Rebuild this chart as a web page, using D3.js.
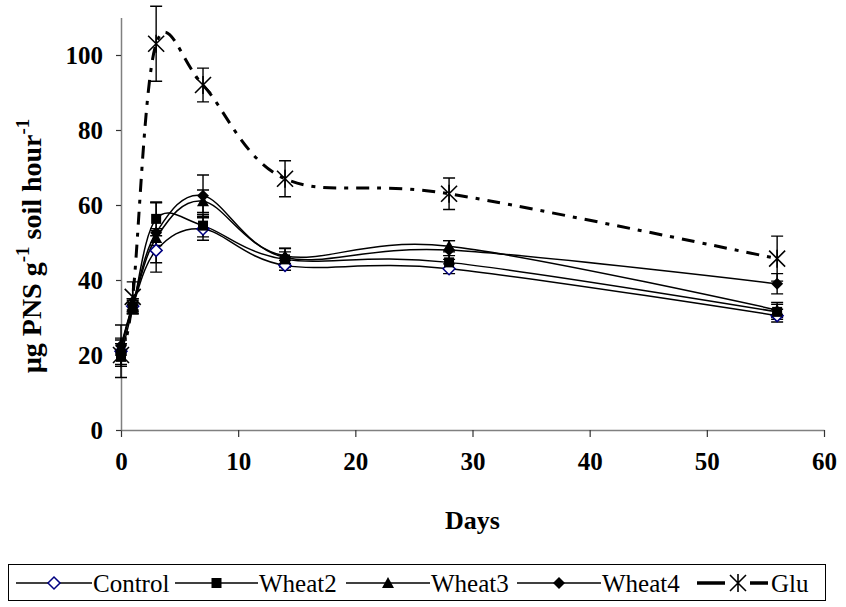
<!DOCTYPE html>
<html><head><meta charset="utf-8">
<script src="https://cdn.jsdelivr.net/npm/d3@7"></script>
<style>body{margin:0;background:#fff}svg{display:block}</style>
</head><body>
<script>
const days = [0, 1, 3, 7, 14, 28, 56];
const controlVals = [21, 33, 47.9, 53.6, 43.9, 43, 30.5];
const controlErr  = [7, 2, 5.8, 3, 1.3, 1.3, 1.7];
const wheat2Vals = [19.5, 32.5, 56.3, 54.5, 45.5, 44.7, 31.5];
const wheat2Err  = [2, 1.5, 4.5, 3, 2, 1.8, 2];
const wheat3Vals = [22, 33, 51.2, 61, 46.4, 49, 32];
const wheat3Err  = [2, 1.5, 2, 3, 2, 1.5, 2];
const wheat4Vals = [22.5, 33.5, 52.6, 62.5, 46, 48, 39];
const wheat4Err  = [2, 1.5, 8, 5.5, 2.5, 2.5, 2.7];
const gluVals = [20, 35.5, 103, 92, 67, 63, 45.7];
const gluErr  = [3, 4, 10, 4.5, 4.8, 4.2, 6];
const xTicks = [0, 10, 20, 30, 40, 50, 60];
const yTicks = [0, 20, 40, 60, 80, 100];
const seriesNames = ["Control", "Wheat2", "Wheat3", "Wheat4", "Glu"];

const FONT = '"Liberation Serif", "Times New Roman", serif';
const W = 846, H = 607;
const svg = d3.select("body").append("svg").attr("width", W).attr("height", H);
const x = d3.scaleLinear().domain([0, 60]).range([121, 824]);
const y = d3.scaleLinear().domain([0, 110]).range([430, 17.5]);

// axes
const xAxis = svg.append("g").attr("transform", `translate(0,${y(0)})`)
  .call(d3.axisBottom(x).tickValues(xTicks).tickSize(7).tickSizeOuter(0).tickPadding(15));
const yAxis = svg.append("g").attr("transform", `translate(${x(0)},0)`)
  .call(d3.axisLeft(y).tickValues(yTicks).tickSize(5).tickSizeOuter(0).tickPadding(13));
[xAxis, yAxis].forEach(g => {
  g.attr("font-family", null).attr("font-size", null);
  g.select(".domain").attr("stroke", "#808080").attr("stroke-width", 1.5);
  g.selectAll(".tick line").attr("stroke", "#333").attr("stroke-width", 1.2);
  g.selectAll(".tick text").style("font-family", FONT).style("font-weight", "bold")
    .style("font-size", "25px").attr("fill", "#000");
});
yAxis.selectAll(".tick text").attr("dy", "0.35em");

// axis titles
svg.append("text").attr("x", x(30)).attr("y", 529).attr("text-anchor", "middle")
  .style("font-family", FONT).style("font-weight", "bold").style("font-size", "26px").text("Days");
const yt = svg.append("text").attr("transform", `translate(41,246) rotate(-90)`)
  .attr("text-anchor", "middle").style("font-family", FONT).style("font-weight", "bold").style("font-size", "28px");
yt.append("tspan").text("µg PNS g");
yt.append("tspan").attr("dy", -12).style("font-size", "19px").text("-1");
yt.append("tspan").attr("dy", 12).text(" soil hour");
yt.append("tspan").attr("dy", -12).style("font-size", "19px").text("-1");

const series = [
  {name: seriesNames[0], vals: controlVals, err: controlErr, marker: "odiamond"},
  {name: seriesNames[1], vals: wheat2Vals, err: wheat2Err, marker: "square"},
  {name: seriesNames[2], vals: wheat3Vals, err: wheat3Err, marker: "triangle"},
  {name: seriesNames[3], vals: wheat4Vals, err: wheat4Err, marker: "diamond"},
  {name: seriesNames[4], vals: gluVals, err: gluErr, marker: "star"}
];

const line = d3.line().x(d => x(d[0])).y(d => y(d[1])).curve(d3.curveCardinal.tension(0));

function drawMarker(g, type, cx, cy) {
  if (type === "odiamond") {
    g.append("path").attr("d", `M${cx},${cy-6}L${cx+6},${cy}L${cx},${cy+6}L${cx-6},${cy}Z`)
      .attr("fill", "#fff").attr("stroke", "#000080").attr("stroke-width", 1.5);
  } else if (type === "square") {
    g.append("rect").attr("x", cx-5).attr("y", cy-5).attr("width", 10).attr("height", 10).attr("fill", "#000");
  } else if (type === "triangle") {
    g.append("path").attr("d", `M${cx},${cy-6}L${cx+6},${cy+5}L${cx-6},${cy+5}Z`).attr("fill", "#000");
  } else if (type === "diamond") {
    g.append("path").attr("d", `M${cx},${cy-6}L${cx+6},${cy}L${cx},${cy+6}L${cx-6},${cy}Z`).attr("fill", "#000");
  } else if (type === "star") {
    const r = 8;
    g.append("path").attr("d", `M${cx-r},${cy-r}L${cx+r},${cy+r}M${cx-r},${cy+r}L${cx+r},${cy-r}M${cx},${cy-r-1}L${cx},${cy+r+1}`)
      .attr("stroke", "#000").attr("stroke-width", 1.6).attr("fill", "none");
  }
}

series.forEach(s => {
  const pts = days.map((d, i) => [d, s.vals[i]]);
  const isGlu = s.marker === "star";
  svg.append("path").datum(pts).attr("d", line).attr("fill", "none").attr("stroke", "#000")
    .attr("stroke-width", isGlu ? 3 : 1.5).attr("stroke-dasharray", isGlu ? "13,8,4,8" : null);
});
series.forEach(s => {
  const g = svg.append("g");
  days.forEach((d, i) => {
    const cx = x(d), top = y(s.vals[i] + s.err[i]), bot = y(s.vals[i] - s.err[i]);
    g.append("path").attr("d", `M${cx},${top}L${cx},${bot}M${cx-6},${top}L${cx+6},${top}M${cx-6},${bot}L${cx+6},${bot}`)
      .attr("stroke", "#000").attr("stroke-width", 1.4).attr("fill", "none");
  });
});
series.forEach(s => {
  const g = svg.append("g");
  days.forEach((d, i) => drawMarker(g, s.marker, x(d), y(s.vals[i])));
});

// legend
svg.append("rect").attr("x", 8.5).attr("y", 564.5).attr("width", 817).attr("height", 36)
  .attr("fill", "#fff").attr("stroke", "#000").attr("stroke-width", 1);
const legItems = [
  {x0: 16, x1: 92, tx: 93},
  {x0: 175, x1: 258, tx: 259},
  {x0: 346, x1: 430, tx: 431},
  {x0: 517, x1: 601, tx: 602},
  {x0: 697, x1: 768, tx: 771}
];
series.forEach((s, i) => {
  const L = legItems[i], ly = 583;
  const g = svg.append("g");
  if (s.marker === "star") {
    g.append("path").attr("d", `M${L.x0},${ly}L${L.x0+28},${ly}M${L.x1-18},${ly}L${L.x1},${ly}`)
      .attr("stroke", "#000").attr("stroke-width", 3.5);
    drawMarker(g, "star", L.x0 + 41, ly);
  } else {
    g.append("line").attr("x1", L.x0).attr("x2", L.x1).attr("y1", ly).attr("y2", ly)
      .attr("stroke", "#000").attr("stroke-width", 1.5);
    drawMarker(g, s.marker, (L.x0 + L.x1) / 2, ly);
  }
  g.append("text").attr("x", L.tx).attr("y", ly + 9).style("font-family", FONT)
    .style("font-size", "25px").text(s.name);
});
</script>
</body></html>
